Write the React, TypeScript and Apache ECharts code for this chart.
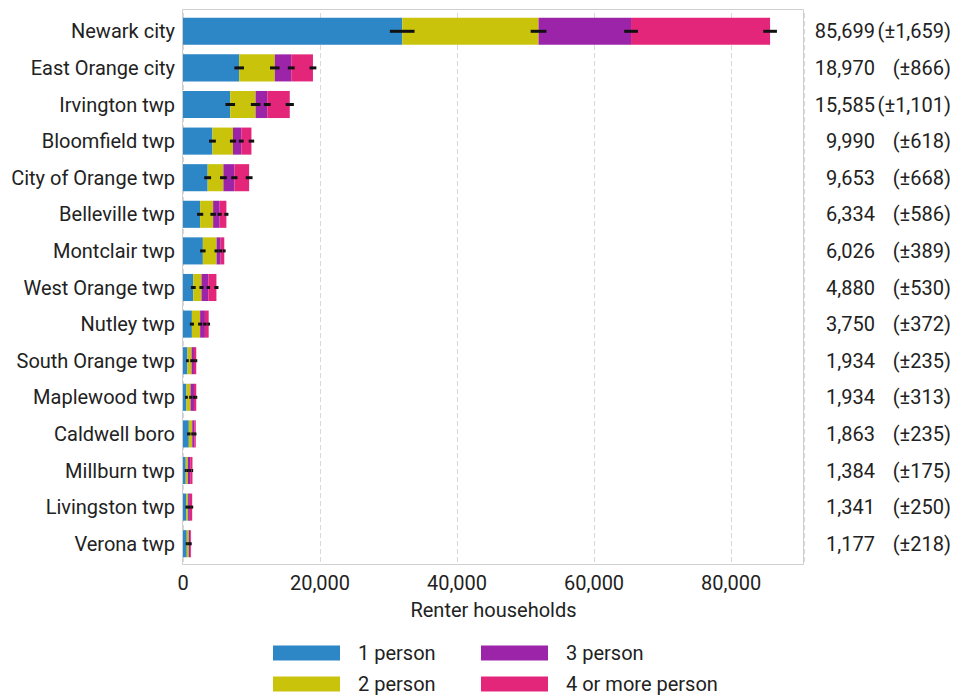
import React, { useEffect, useRef } from "react";
import * as echarts from "echarts";

const categories = [
  "Newark city",
  "East Orange city",
  "Irvington twp",
  "Bloomfield twp",
  "City of Orange twp",
  "Belleville twp",
  "Montclair twp",
  "West Orange twp",
  "Nutley twp",
  "South Orange twp",
  "Maplewood twp",
  "Caldwell boro",
  "Millburn twp",
  "Livingston twp",
  "Verona twp",
];
const totals = [85699, 18970, 15585, 9990, 9653, 6334, 6026, 4880, 3750, 1934, 1934, 1863, 1384, 1341, 1177];
const totalMoe = [1659, 866, 1101, 618, 668, 586, 389, 530, 372, 235, 313, 235, 175, 250, 218];

const seriesNames = ["1 person", "2 person", "3 person", "4 or more person"];
const onePerson = [32000, 8200, 6900, 4300, 3600, 2500, 2900, 1500, 1300, 650, 500, 850, 400, 500, 550];
const twoPerson = [19900, 5200, 3700, 3000, 2300, 1900, 2000, 1200, 1200, 600, 600, 500, 300, 250, 300];
const threePerson = [13500, 2400, 1700, 1200, 1600, 950, 600, 1000, 700, 350, 500, 300, 350, 250, 200];
const fourPlusPerson = [20299, 3170, 3285, 1490, 2153, 984, 526, 1180, 550, 334, 334, 213, 334, 341, 127];

const moeOne = [1800, 700, 700, 500, 500, 450, 400, 350, 300, 200, 200, 250, 150, 150, 150];
const moeTwo = [1150, 700, 700, 450, 500, 400, 300, 300, 300, 200, 200, 150, 150, 150, 150];
const moeThree = [1000, 500, 500, 350, 450, 300, 250, 250, 250, 150, 200, 150, 150, 150, 100];
const moeFour = [1000, 500, 600, 400, 500, 300, 200, 300, 200, 150, 150, 100, 100, 150, 100];

const xTicks = [0, 20000, 40000, 60000, 80000];

const colors = ["#2D86C6", "#C9C30C", "#9B24A8", "#E4267B"];
const FONT = "Roboto";
const TEXT = "#222";
const FS = 20;

export default function App() {
  const ref = useRef<HTMLDivElement>(null);
  useEffect(() => {
    document.body.style.margin = "0";
    if (!ref.current) return;
    const chart = echarts.init(ref.current, undefined, { renderer: "svg" });
    const segs = [onePerson, twoPerson, threePerson, fourPlusPerson];
    const moes = [moeOne, moeTwo, moeThree, moeFour];
    const errData: number[][] = [];
    categories.forEach((_, i) => {
      let cum = 0;
      segs.forEach((s, k) => {
        cum += s[i];
        errData.push([cum, i, moes[k][i]]);
      });
    });
    const fmt = (n: number) => n.toLocaleString("en-US");
    const legendPos = [
      { left: 273, top: 643 },
      { left: 273, top: 674 },
      { left: 481, top: 643 },
      { left: 481, top: 674 },
    ];
    const option: any = {
      animation: false,
      textStyle: { fontFamily: FONT },
      graphic: [
        {
          type: "rect",
          z: -1,
          silent: true,
          shape: { x: 182.5, y: 9.5, width: 621, height: 555 },
          style: { fill: "none", stroke: "#cfcfcf", lineWidth: 1 },
        },
      ],
      grid: { left: 183, width: 621, top: 13, height: 549, containLabel: false },
      legend: seriesNames.map((n, k) => ({
        data: [n],
        left: legendPos[k].left,
        top: legendPos[k].top,
        padding: 0,
        itemWidth: 67,
        itemHeight: 15,
        icon: "rect",
        textStyle: { fontFamily: FONT, fontSize: FS, color: TEXT, lineHeight: 20, padding: [0, 0, 0, 13] },
      })),
      xAxis: {
        type: "value",
        min: 0,
        max: 90650,
        interval: 20000,
        name: "Renter households",
        nameLocation: "middle",
        nameGap: 38,
        nameTextStyle: { fontFamily: FONT, fontSize: FS, color: TEXT },
        axisLine: { show: false },
        axisTick: { show: false },
        axisLabel: {
          fontFamily: FONT,
          fontSize: FS,
          color: TEXT,
          margin: 11,
          showMaxLabel: false,
          formatter: (v: number) => (xTicks.includes(v) ? fmt(v) : ""),
        },
        splitLine: { show: true, lineStyle: { color: "#d8d8d8", type: [5, 3], width: 1 } },
      },
      yAxis: [
        {
          type: "category",
          data: categories,
          inverse: true,
          axisLine: { show: false },
          axisTick: { show: false },
          axisLabel: { fontFamily: FONT, fontSize: FS, color: TEXT, margin: 8 },
          splitLine: { show: false },
        },
        {
          type: "category",
          data: categories,
          inverse: true,
          position: "right",
          axisLine: { show: false },
          axisTick: { show: false },
          splitLine: { show: false },
          axisLabel: {
            margin: 2,
            formatter: (_: string, idx: number) => `{v|${fmt(totals[idx])}}{m|(±${fmt(totalMoe[idx])})}`,
            rich: {
              v: { fontFamily: FONT, fontSize: FS, color: TEXT, width: 69, align: "right" },
              m: { fontFamily: FONT, fontSize: FS, color: TEXT, width: 76, align: "right" },
            },
          },
        },
      ],
      series: [
        ...segs.map((s, k) => ({
          name: seriesNames[k],
          type: "bar",
          stack: "total",
          data: s,
          barCategoryGap: "26%",
          itemStyle: { color: colors[k] },
        })),
        {
          type: "custom",
          name: "moe",
          data: errData,
          encode: { x: 0, y: 1 },
          z: 10,
          renderItem: (params: any, api: any) => {
            const x = api.value(0);
            const y = api.value(1);
            const m = api.value(2);
            const p1 = api.coord([x - m, y]);
            const p2 = api.coord([x + m, y]);
            return {
              type: "line",
              shape: { x1: p1[0], y1: p1[1], x2: p2[0], y2: p2[1] },
              style: { stroke: "#111", lineWidth: 3 },
            };
          },
        },
      ],
    };
    chart.setOption(option);
    return () => chart.dispose();
  }, []);
  return <div ref={ref} style={{ width: 955, height: 697 }} />;
}
